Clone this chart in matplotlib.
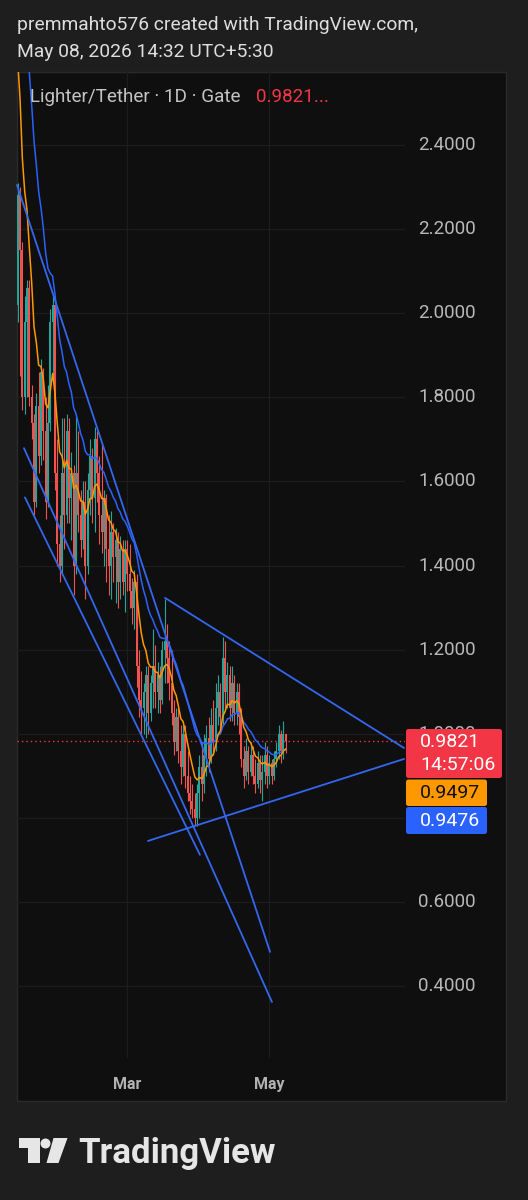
import numpy as np
import pandas as pd
import matplotlib
matplotlib.use("Agg")
import matplotlib.pyplot as plt
import matplotlib.dates as mdates
import matplotlib.transforms as mtransforms
from matplotlib.patches import Rectangle, FancyBboxPatch, Polygon, Circle

plt.rcParams['font.family'] = ['Roboto', 'DejaVu Sans']

###########
# DONNÉES #
###########
start = "2026-01-13"
first_open = 2.02
close = [2.28, 2.15, 1.80, 1.98, 2.06, 1.80, 1.74, 1.55, 1.78, 1.66,
         1.86, 1.72, 1.55, 1.74, 1.98, 2.02, 1.62, 1.45, 1.40, 1.62,
         1.52, 1.72, 1.56, 1.62, 1.40, 1.62, 1.52, 1.46, 1.55, 1.40,
         1.58, 1.66, 1.56, 1.70, 1.62, 1.52, 1.48, 1.56, 1.44, 1.40,
         1.48, 1.42, 1.46, 1.36, 1.44, 1.36, 1.44, 1.38, 1.34, 1.30,
         1.36, 1.16, 1.08, 1.06, 1.10, 1.14, 1.05, 1.12, 1.16, 1.10,
         1.14, 1.08, 1.20, 1.22, 1.18, 1.12, 1.05, 0.98, 1.04, 0.96,
         0.92, 1.00, 0.90, 0.86, 0.84, 0.82, 0.80, 0.86, 0.92, 0.88,
         0.95, 0.99, 0.94, 1.02, 0.98, 1.06, 1.10, 1.04, 1.18, 1.10,
         1.14, 1.06, 1.12, 1.05, 1.10, 1.04, 0.94, 0.90, 0.96, 0.91,
         0.95, 0.90, 0.88, 0.93, 0.89, 0.91, 0.95, 0.90, 0.93, 0.90,
         0.94, 0.96, 1.00, 0.96, 1.00, 0.9821]
high = [2.31, 2.30, 2.17, 2.04, 2.08, 2.08, 1.83, 1.76, 1.81, 1.86,
        1.89, 1.87, 1.80, 1.83, 2.01, 2.04, 2.02, 1.70, 1.52, 1.75,
        1.75, 1.76, 1.75, 1.67, 1.64, 1.76, 1.72, 1.58, 1.60, 1.60,
        1.62, 1.70, 1.68, 1.73, 1.72, 1.66, 1.69, 1.58, 1.57, 1.52,
        1.53, 1.50, 1.49, 1.48, 1.47, 1.46, 1.46, 1.46, 1.45, 1.37,
        1.39, 1.38, 1.20, 1.15, 1.12, 1.16, 1.16, 1.14, 1.25, 1.21,
        1.17, 1.16, 1.22, 1.32, 1.26, 1.22, 1.20, 1.08, 1.06, 1.06,
        1.02, 1.02, 1.02, 0.96, 0.90, 0.88, 0.86, 0.88, 0.95, 0.98,
        1.00, 1.02, 1.04, 1.06, 1.08, 1.12, 1.14, 1.12, 1.23, 1.22,
        1.17, 1.16, 1.16, 1.14, 1.12, 1.12, 1.06, 0.97, 0.99, 0.97,
        0.98, 0.97, 0.94, 0.96, 0.95, 0.95, 0.98, 0.97, 0.95, 0.94,
        0.96, 0.98, 1.02, 1.01, 1.03, 1.00]
low = [1.98, 1.85, 1.77, 1.76, 1.80, 1.78, 1.70, 1.52, 1.54, 1.62,
       1.64, 1.65, 1.51, 1.54, 1.72, 1.84, 1.58, 1.40, 1.36, 1.38,
       1.44, 1.50, 1.50, 1.46, 1.33, 1.38, 1.48, 1.42, 1.44, 1.32,
       1.38, 1.52, 1.50, 1.48, 1.55, 1.45, 1.43, 1.40, 1.36, 1.33,
       1.32, 1.36, 1.31, 1.30, 1.32, 1.33, 1.29, 1.34, 1.30, 1.26,
       1.25, 1.11, 1.04, 1.00, 1.00, 0.99, 1.00, 1.03, 1.06, 1.06,
       1.05, 1.05, 1.07, 1.12, 1.12, 1.08, 1.02, 0.95, 0.96, 0.93,
       0.88, 0.90, 0.87, 0.84, 0.81, 0.80, 0.78, 0.78, 0.80, 0.84,
       0.86, 0.90, 0.91, 0.93, 0.95, 0.96, 1.02, 1.00, 1.02, 1.06,
       1.06, 1.03, 1.03, 1.02, 1.02, 1.00, 0.92, 0.87, 0.89, 0.88,
       0.90, 0.88, 0.86, 0.87, 0.86, 0.84, 0.88, 0.87, 0.88, 0.88,
       0.89, 0.92, 0.94, 0.93, 0.94, 0.955]

# moyennes mobiles (orange rapide, bleue lente)
fast_len, fast_seed = 9, 2.60
slow_len, slow_seed = 21, 2.95
fast_last, slow_last = 0.9497, 0.9476
countdown = "14:57:06"

price_ticks = [0.4, 0.6, 0.8, 1.0, 1.2, 1.4, 1.6, 1.8, 2.0, 2.2, 2.4]
month_ticks = ["2026-03-01", "2026-05-01"]
month_labels = ["Mar", "May"]

# tracés à la main : (jour depuis le début, prix)
trend_days = [(-0.3, 108.3), (2.7, 109.1), (3.1, 78.2), (63.2, 165.8), (55.9, 165.8)]
trend_prices = [(2.305, 0.481), (1.679, 0.362), (1.562, 0.712), (1.323, 0.966), (0.745, 0.940)]

title = "Lighter/Tether · 1D · Gate"

##########
# CALCUL #
##########
def ema(values, length, seed):
    a = 2 / (length + 1)
    out = [seed]
    for v in values[1:]:
        out.append(out[-1] + a * (v - out[-1]))
    return np.array(out)

dates = pd.date_range(start, periods=len(close), freq="D")
t = mdates.date2num(dates)
t0 = t[0]
close = np.array(close)
opn = np.array([first_open] + list(close[:-1]))
high = np.array(high)
low = np.array(low)
fast = ema(close, fast_len, fast_seed)
slow = ema(close, slow_len, slow_seed)

###########
# FIGURE  #
###########
W, H = 528, 1200
fig = plt.figure(figsize=(W / 100, H / 100), dpi=100, facecolor="#1e1e1e")

# fond + cadre du graphique (coordonnées en pixels)
bg = fig.add_axes([0, 0, 1, 1], zorder=0)
bg.set_xlim(0, W)
bg.set_ylim(H, 0)
bg.axis("off")
bg.add_patch(Rectangle((17, 72), 489, 1029, facecolor="#0f0f0f",
                       edgecolor="#2a2a2a", lw=1))

ax_l, ax_r, ax_t, ax_b = 17, 405, 72, 1058
ax = fig.add_axes([ax_l / W, 1 - ax_b / H, (ax_r - ax_l) / W, (ax_b - ax_t) / H], zorder=2)
ax.set_facecolor("none")
for s in ax.spines.values():
    s.set_visible(False)
ax.set_xlim(t0 - 0.3, t0 + 166.2)
ax.set_ylim(0.2288, 2.5736)
ax.set_xticks([])
ax.set_yticks([])

# grille
for p in price_ticks:
    ax.axhline(p, color="#1d1d1d", lw=0.9, zorder=0)
for m in month_ticks:
    ax.axvline(mdates.date2num(pd.Timestamp(m)), color="#1d1d1d", lw=0.9, zorder=0)

# bougies
up = close >= opn
col = np.where(up, "#26a69a", "#ef5350")
ax.vlines(t, low, high, colors=col, lw=0.8, zorder=2)
ax.vlines(t, np.minimum(opn, close), np.maximum(opn, close), colors=col, lw=1.45, zorder=2)

# moyennes mobiles
ax.plot(t, slow, color="#2962ff", lw=1.1, zorder=3)
ax.plot(t, fast, color="#ff9800", lw=1.1, zorder=3)

# lignes de tendance
for (d1, d2), (p1, p2) in zip(trend_days, trend_prices):
    ax.plot([t0 + d1, t0 + d2], [p1, p2], color="#3467f0", lw=1.3, zorder=4,
            solid_capstyle="round", clip_on=False)

# dernier prix
ax.axhline(close[-1], color="#f23645", lw=1.0, ls=(0, (1, 2.2)), zorder=1)

# échelle de prix (les étiquettes cachées par les marqueurs de prix sont coupées)
tr = mtransforms.blended_transform_factory(ax.transAxes, ax.transData)
tag_top_px = 729
for p in price_ticks:
    y_px = ax_t + (ax.get_ylim()[1] - p) / (ax.get_ylim()[1] - ax.get_ylim()[0]) * (ax_b - ax_t)
    if tag_top_px - 8 < y_px < 834 + 8 and y_px > tag_top_px + 10:
        continue
    txt = ax.text((418 - ax_l) / (ax_r - ax_l), p, f"{p:.4f}", transform=tr,
                  color="#b8b8b8", fontsize=13.5, va="center", ha="left", clip_on=False)
    if tag_top_px - 8 < y_px < tag_top_px + 10:
        # seul le haut dépasse du marqueur rouge
        clip = Rectangle((0, 0), 1, 1, transform=fig.transFigure)
        clip.set_bounds(0, 1 - tag_top_px / H, 1, tag_top_px / H)
        txt.set_clip_path(clip)
        txt.set_clip_on(True)

# échelle de temps
for m, lab in zip(month_ticks, month_labels):
    ax.text(mdates.date2num(pd.Timestamp(m)), -0.019, lab,
            transform=mtransforms.blended_transform_factory(ax.transData, ax.transAxes),
            color="#b2b2b2", fontsize=11.5, fontweight="bold", ha="center", va="top")

########################
# ÉTIQUETTES & ENTÊTE  #
########################
ov = fig.add_axes([0, 0, 1, 1], zorder=5)
ov.set_xlim(0, W)
ov.set_ylim(H, 0)
ov.axis("off")
ov.patch.set_alpha(0)

ov.text(17, 25, "premmahto576 created with TradingView.com,", color="#dedede",
        fontsize=13.9, va="center", ha="left")
ov.text(17, 52, "May 08, 2026 14:32 UTC+5:30", color="#dedede",
        fontsize=13.9, va="center", ha="left")
ov.text(30, 97, title, color="#c4c4c4", fontsize=13.6, va="center", ha="left")
ov.text(256, 97, f"{close[-1]:.4f}...", color="#f23645", fontsize=13.6, va="center", ha="left")

def tag(y0, y1, x1, color):
    ov.add_patch(FancyBboxPatch((406, y0), x1 - 406, y1 - y0,
                                boxstyle="round,pad=0,rounding_size=2.5",
                                facecolor=color, edgecolor="none"))

tag(729, 778, 502, "#f23645")
ov.text(420, 742, f"{close[-1]:.4f}", color="white", fontsize=14, va="center")
ov.text(420, 765, countdown, color="white", fontsize=14, va="center")
tag(779.5, 806, 487, "#ff9800")
ov.text(420, 793, f"{fast_last:.4f}", color="#111111", fontsize=14, va="center")
tag(807, 834, 487, "#2962ff")
ov.text(420, 820.5, f"{slow_last:.4f}", color="white", fontsize=14, va="center")

# logo TradingView
logo = "#e6e6e6"
ov.add_patch(Rectangle((19, 1138), 21, 10, color=logo, lw=0))
ov.add_patch(Rectangle((28, 1138), 12, 25, color=logo, lw=0))
ov.add_patch(Circle((45.5, 1143.5), 5, color=logo, lw=0))
ov.add_patch(Polygon([(53.5, 1138), (67.5, 1138), (58.5, 1163), (46.5, 1163)],
                     closed=True, color=logo, lw=0))
ov.text(78, 1163, "TradingView", color=logo, fontsize=25, fontweight="bold",
        va="baseline", ha="left")

fig.savefig("out.png", dpi=100, facecolor=fig.get_facecolor())
